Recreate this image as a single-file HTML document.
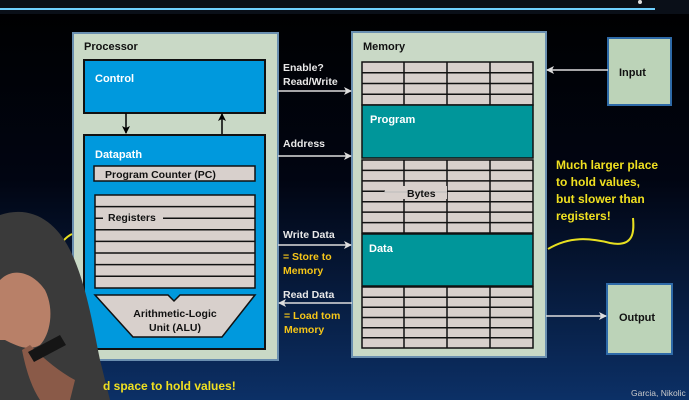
<!DOCTYPE html>
<html><head><style>
html,body{margin:0;padding:0;width:689px;height:400px;overflow:hidden;background:#000}
svg{display:block}
text{font-family:"Liberation Sans",sans-serif;font-weight:bold}
</style></head><body>
<svg width="689" height="400" viewBox="0 0 689 400" xmlns="http://www.w3.org/2000/svg">
<defs>
<linearGradient id="bg" x1="0" y1="0" x2="0" y2="1">
<stop offset="0" stop-color="#000"/><stop offset="0.45" stop-color="#010512"/><stop offset="1" stop-color="#0c3066"/>
</linearGradient>
<marker id="ah" markerWidth="8" markerHeight="8" refX="7" refY="4" orient="auto" markerUnits="userSpaceOnUse"><path d="M0,0 L8,4 L0,8 L2,4z" fill="#ddd"/></marker>
<marker id="ak" markerWidth="8" markerHeight="8" refX="7" refY="4" orient="auto" markerUnits="userSpaceOnUse"><path d="M0,0 L8,4 L0,8 L2,4z" fill="#000"/></marker>
</defs>
<rect width="689" height="400" fill="url(#bg)"/>
<rect x="0" y="0" width="689" height="14" fill="#0a0f18"/>
<line x1="0" y1="9" x2="655" y2="9" stroke="#6fd0ff" stroke-width="2"/>
<circle cx="640" cy="2" r="2" fill="#ddd"/>

<!-- Processor -->
<rect x="73" y="33" width="205" height="327" fill="#c9d9c6" stroke="#6a8fb0" stroke-width="2"/>
<text x="84" y="50" font-size="11" fill="#111">Processor</text>
<rect x="84" y="60" width="181" height="53" fill="#0099dd" stroke="#111" stroke-width="2"/>
<text x="95" y="82" font-size="11" fill="#fff">Control</text>
<line x1="126" y1="113" x2="126" y2="133" stroke="#000" stroke-width="1.5" marker-end="url(#ak)"/>
<line x1="222" y1="134" x2="222" y2="114" stroke="#000" stroke-width="1.5" marker-end="url(#ak)"/>
<rect x="84" y="135" width="181" height="214" fill="#0099dd" stroke="#111" stroke-width="2"/>
<text x="95" y="158" font-size="11" fill="#fff">Datapath</text>
<rect x="94" y="166" width="161" height="15" fill="#d8d0cc" stroke="#111" stroke-width="1.5"/>
<text x="105" y="178" font-size="10.5" fill="#111">Program Counter (PC)</text>
<rect x="95" y="195" width="160" height="93" fill="#d8d0cc" stroke="#111" stroke-width="1.5"/>
<g stroke="#111" stroke-width="1.5">
<line x1="95" y1="206.6" x2="255" y2="206.6"/><line x1="95" y1="218.2" x2="255" y2="218.2"/>
<line x1="95" y1="229.8" x2="255" y2="229.8"/><line x1="95" y1="241.4" x2="255" y2="241.4"/>
<line x1="95" y1="253" x2="255" y2="253"/><line x1="95" y1="264.6" x2="255" y2="264.6"/><line x1="95" y1="276.2" x2="255" y2="276.2"/>
</g>
<rect x="103" y="210" width="60" height="14" fill="#d8d0cc"/>
<text x="108" y="221" font-size="10.5" fill="#111">Registers</text>
<path d="M95,295 L168,295 L174,301 L180,295 L255,295 L222,337 L133,337 Z" fill="#d8d0cc" stroke="#111" stroke-width="1.5"/>
<text x="175" y="317" font-size="10.5" fill="#111" text-anchor="middle">Arithmetic-Logic</text>
<text x="175" y="331" font-size="10.5" fill="#111" text-anchor="middle">Unit (ALU)</text>

<!-- Memory -->
<rect x="352" y="32" width="194" height="325" fill="#c9d9c6" stroke="#6a8fb0" stroke-width="2"/>
<text x="363" y="50" font-size="11" fill="#111">Memory</text>
<g fill="#d8d0cc" stroke="#111" stroke-width="1.5">
<rect x="362" y="62" width="171" height="43"/>
<rect x="362" y="160" width="171" height="73"/>
<rect x="362" y="287" width="171" height="61"/>
</g>
<g stroke="#111" stroke-width="1.5">
<line x1="362" y1="72.75" x2="533" y2="72.75"/><line x1="362" y1="83.5" x2="533" y2="83.5"/><line x1="362" y1="94.25" x2="533" y2="94.25"/>
<line x1="362" y1="170.4" x2="533" y2="170.4"/><line x1="362" y1="180.9" x2="533" y2="180.9"/><line x1="362" y1="191.3" x2="533" y2="191.3"/>
<line x1="362" y1="201.7" x2="533" y2="201.7"/><line x1="362" y1="212.1" x2="533" y2="212.1"/><line x1="362" y1="222.6" x2="533" y2="222.6"/>
<line x1="362" y1="297.2" x2="533" y2="297.2"/><line x1="362" y1="307.3" x2="533" y2="307.3"/><line x1="362" y1="317.5" x2="533" y2="317.5"/>
<line x1="362" y1="327.7" x2="533" y2="327.7"/><line x1="362" y1="337.8" x2="533" y2="337.8"/>
<line x1="404" y1="62" x2="404" y2="105"/><line x1="447" y1="62" x2="447" y2="105"/><line x1="490" y1="62" x2="490" y2="105"/>
<line x1="404" y1="160" x2="404" y2="233"/><line x1="447" y1="160" x2="447" y2="233"/><line x1="490" y1="160" x2="490" y2="233"/>
<line x1="404" y1="287" x2="404" y2="348"/><line x1="447" y1="287" x2="447" y2="348"/><line x1="490" y1="287" x2="490" y2="348"/>
</g>
<rect x="385" y="186" width="62" height="13" fill="#d8d0cc"/>
<line x1="384" y1="192" x2="447" y2="192" stroke="#bbb" stroke-width="1"/>
<text x="407" y="197" font-size="10.5" fill="#111">Bytes</text>
<rect x="362" y="105" width="171" height="53" fill="#00969a" stroke="#111" stroke-width="1.5"/>
<text x="370" y="123" font-size="11" fill="#fff">Program</text>
<rect x="362" y="234" width="171" height="52" fill="#00969a" stroke="#111" stroke-width="1.5"/>
<text x="369" y="252" font-size="11" fill="#fff">Data</text>

<!-- IO -->
<rect x="608" y="38" width="63" height="67" fill="#bcd3b8" stroke="#2e6aa8" stroke-width="2"/>
<text x="619" y="76" font-size="11" fill="#111">Input</text>
<rect x="607" y="284" width="65" height="70" fill="#bcd3b8" stroke="#2e6aa8" stroke-width="2"/>
<text x="619" y="321" font-size="11" fill="#111">Output</text>

<!-- arrows -->
<g stroke="#ddd" stroke-width="1.5">
<line x1="278" y1="91" x2="351" y2="91" marker-end="url(#ah)"/>
<line x1="278" y1="156" x2="351" y2="156" marker-end="url(#ah)"/>
<line x1="278" y1="245" x2="351" y2="245" marker-end="url(#ah)"/>
<line x1="352" y1="303" x2="279" y2="303" marker-end="url(#ah)"/>
<line x1="608" y1="70" x2="547" y2="70" marker-end="url(#ah)"/>
<line x1="546" y1="316" x2="606" y2="316" marker-end="url(#ah)"/>
</g>
<g font-size="10.5" fill="#e8e8e8">
<text x="283" y="71">Enable?</text><text x="283" y="85">Read/Write</text>
<text x="283" y="147">Address</text>
<text x="283" y="238">Write Data</text>
<text x="283" y="298">Read Data</text>
</g>
<g font-size="10.5" fill="#f5c518">
<text x="283" y="260">= Store to</text><text x="283" y="274">Memory</text>
<text x="284" y="319">= Load  tom</text><text x="284" y="333">Memory</text>
</g>
<g font-size="12" fill="#f0e020">
<text x="556" y="169">Much larger place</text>
<text x="556" y="186">to hold values,</text>
<text x="556" y="203">but slower than</text>
<text x="556" y="220">registers!</text>
</g>
<path d="M548,249 C570,236 590,238 610,243 C635,248 634,230 633,218" fill="none" stroke="#e8e020" stroke-width="2"/>
<path d="M58,250 C62,240 68,236 72,234" fill="none" stroke="#e8e020" stroke-width="2"/>

<!-- person -->
<path d="M0,215 C30,205 55,220 70,250 C85,280 92,320 100,360 L110,400 L0,400 Z" fill="#3a3a3a"/>
<path d="M0,280 C15,265 35,275 45,290 C55,310 50,335 40,345 C28,352 15,345 5,340 L0,340 Z" fill="#b88068"/>
<path d="M30,345 C45,360 60,372 75,380 L70,400 L40,400 C30,385 25,365 22,350 Z" fill="#8a5a48"/>
<path d="M28,352 L60,335 L66,345 L34,362 Z" fill="#151515"/>

<text x="103" y="390" font-size="12" fill="#f0e020">d space to hold values!</text>
<text x="631" y="396" font-size="8.5" fill="#ccc" style="font-weight:normal">Garcia, Nikolic</text>
</svg>
</body></html>
